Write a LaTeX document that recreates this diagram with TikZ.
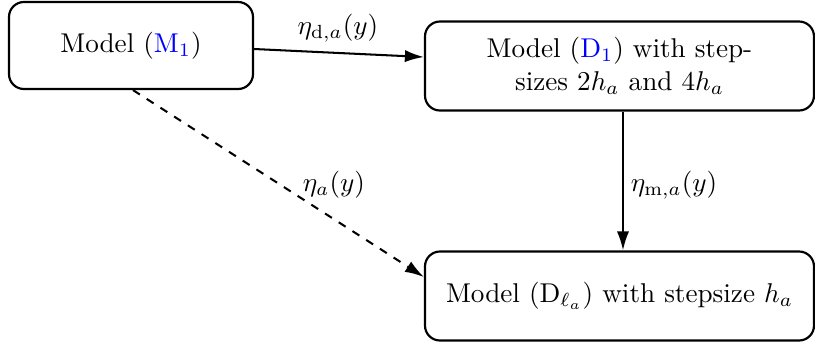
\documentclass[tikz,border=0pt]{standalone}
\usetikzlibrary{calc,arrows.meta}
\begin{document}
\begin{tikzpicture}[x=0.368pt,y=-0.368pt,
  box/.style={draw,line width=0.8pt,rounded corners=5.5pt,align=center,inner sep=0pt},
  conn/.style={line width=0.75pt,-{Latex[length=7pt,width=4.5pt]}},
  lbl/.style={inner sep=0pt}]
\useasboundingbox (0,0) rectangle (815,350);
\node[box,minimum width={244*0.368pt},minimum height={87*0.368pt}] (b1) at (131,45.5) {Model (\textcolor{blue}{$\mathrm{M}_1$})};
\node[box,minimum width={389*0.368pt},minimum height={89*0.368pt}] (b2) at (619.5,66) {Model (\textcolor{blue}{$\mathrm{D}_1$}) with step-\\sizes $2h_a$ and $4h_a$};
\node[box,minimum width={389*0.368pt},minimum height={89*0.368pt}] (b3) at (619.5,296) {Model ($\mathrm{D}_{\ell_a}$) with stepsize $h_a$};
\draw[conn] ($(b1.east)+(0,3.5)$) -- ($(b2.west)+(0,-9)$);
\node[lbl] (l1) at (338,28) {$\eta_{\mathrm{d},a}(y)$};
\draw[conn,dashed] ($(b1.south)+(2,0)$) -- ($(b3.west)+(0,-19)$);
\node[lbl] (l2) at (334,185) {$\eta_a(y)$};
\draw[conn] ($(b2.south)+(3.5,0)$) -- ($(b3.north)+(3.5,0)$);
\node[lbl] (l3) at (674,185) {$\eta_{\mathrm{m},a}(y)$};
\end{tikzpicture}
\end{document}
